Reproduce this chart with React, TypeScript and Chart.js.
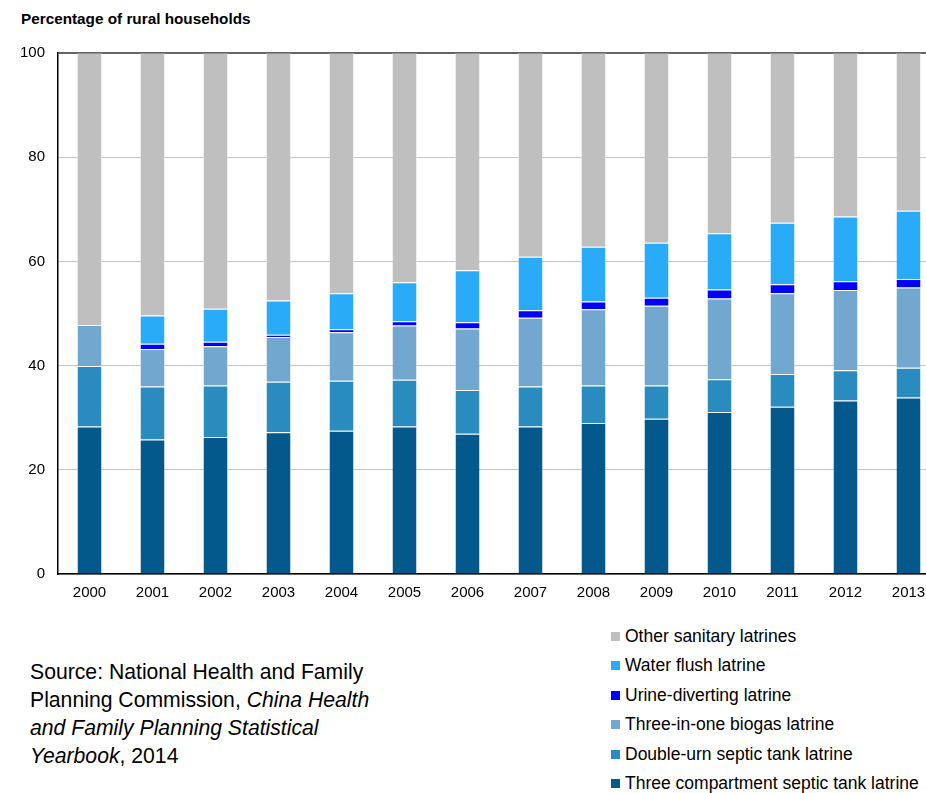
import React, { useEffect, useRef } from "react";
import { Chart, registerables } from "chart.js";

Chart.register(...registerables);

const years = ["2000", "2001", "2002", "2003", "2004", "2005", "2006", "2007", "2008", "2009", "2010", "2011", "2012", "2013"];
const threeCompartment = [28.3, 25.8, 26.3, 27.2, 27.5, 28.3, 26.9, 28.3, 29.0, 29.8, 31.1, 32.1, 33.3, 33.9];
const doubleUrn = [11.6, 10.2, 9.9, 9.7, 9.6, 9.0, 8.4, 7.7, 7.2, 6.4, 6.3, 6.3, 5.8, 5.7];
const biogas = [7.9, 7.2, 7.5, 8.6, 9.3, 10.4, 11.8, 13.2, 14.6, 15.3, 15.5, 15.5, 15.4, 15.4];
const urineDiverting = [0, 1.0, 0.9, 0.4, 0.6, 0.8, 1.2, 1.4, 1.5, 1.5, 1.7, 1.7, 1.7, 1.6];
const waterFlush = [0, 5.4, 6.3, 6.6, 6.9, 7.5, 10.0, 10.3, 10.5, 10.6, 10.8, 11.8, 12.4, 13.1];
const otherSanitary = [52.2, 50.4, 49.1, 47.5, 46.1, 44.0, 41.7, 39.1, 37.2, 36.4, 34.6, 32.6, 31.4, 30.3];
const yTicks = [0, 20, 40, 60, 80, 100];

const seriesNames = [
  "Three compartment septic tank latrine",
  "Double-urn septic tank latrine",
  "Three-in-one biogas latrine",
  "Urine-diverting latrine",
  "Water flush latrine",
  "Other sanitary latrines",
];
const seriesColors = ["#04598C", "#2A8CBE", "#72A8D0", "#0000FF", "#2AABF8", "#BFBFBF"];
const seriesData = [threeCompartment, doubleUrn, biogas, urineDiverting, waterFlush, otherSanitary];

const FONT = "'Liberation Sans', Arial, Helvetica, sans-serif";

export default function App() {
  const canvasRef = useRef<HTMLCanvasElement | null>(null);

  useEffect(() => {
    const canvas = canvasRef.current;
    if (!canvas) return;
    const chart = new Chart(canvas, {
      type: "bar",
      data: {
        labels: years,
        datasets: seriesNames.map((name, i) => ({
          label: name,
          data: seriesData[i],
          backgroundColor: seriesColors[i],
          borderColor: "rgba(255,255,255,0.3)",
          borderWidth: 1,
          categoryPercentage: 1,
          barPercentage: 0.405,
        })),
      },
      options: {
        responsive: false,
        animation: false,
        maintainAspectRatio: false,
        layout: { padding: { top: 53, right: 4, left: 0, bottom: 0 } },
        plugins: {
          legend: { display: false },
          tooltip: { enabled: false },
          title: { display: false },
        },
        scales: {
          x: {
            stacked: true,
            grid: { display: false, drawTicks: false },
            border: { color: "#000000", width: 1.5 },
            ticks: {
              color: "#000000",
              font: { family: FONT, size: 15 },
              padding: 10,
              maxRotation: 0,
              autoSkip: false,
            },
            afterFit: (scale: any) => {
              scale.height = 40;
            },
          },
          y: {
            stacked: true,
            min: 0,
            max: 100,
            afterBuildTicks: (scale: any) => {
              scale.ticks = yTicks.map((v) => ({ value: v }));
            },
            grid: {
              drawTicks: false,
              color: (ctx: any) => (ctx.tick && ctx.tick.value === 100 ? "#646464" : "#C4C4C4"),
              lineWidth: (ctx: any) => (ctx.tick && ctx.tick.value === 100 ? 2 : 1),
            },
            border: { color: "#000000", width: 1.5 },
            ticks: {
              color: "#000000",
              font: { family: FONT, size: 15 },
              padding: 13,
            },
            afterFit: (scale: any) => {
              scale.width = 58;
            },
          },
        },
      },
    });
    return () => chart.destroy();
  }, []);

  const legendItems = seriesNames
    .map((n, i) => ({ name: n, color: seriesColors[i] }))
    .reverse();

  return (
    <div
      style={{
        position: "fixed",
        left: 0,
        top: 0,
        width: 926,
        height: 793,
        overflow: "hidden",
        background: "#ffffff",
        fontFamily: FONT,
        color: "#000000",
      }}
    >
      <div
        style={{
          position: "absolute",
          left: 21,
          top: 10,
          fontSize: 15.3,
          lineHeight: "18px",
          fontWeight: "bold",
          whiteSpace: "nowrap",
        }}
      >
        Percentage of rural households
      </div>
      <canvas
        ref={canvasRef}
        width={944}
        height={614}
        style={{ position: "absolute", left: 0, top: 0, width: 944, height: 614 }}
      />
      {legendItems.map((item, i) => (
        <div
          key={item.name}
          style={{
            position: "absolute",
            left: 611,
            top: 636.5 + i * 29.4 - 10,
            height: 20,
            display: "flex",
            alignItems: "center",
            whiteSpace: "nowrap",
            fontSize: 17.5,
          }}
        >
          <span
            style={{
              display: "inline-block",
              width: 9,
              height: 9,
              background: item.color,
              marginRight: 5,
            }}
          />
          <span>{item.name}</span>
        </div>
      ))}
      <div
        style={{
          position: "absolute",
          left: 30,
          top: 658,
          fontSize: 21.2,
          lineHeight: "28px",
          whiteSpace: "nowrap",
        }}
      >
        Source: National Health and Family
        <br />
        Planning Commission, <i>China Health</i>
        <br />
        <i>and Family Planning Statistical</i>
        <br />
        <i>Yearbook</i>, 2014
      </div>
    </div>
  );
}
